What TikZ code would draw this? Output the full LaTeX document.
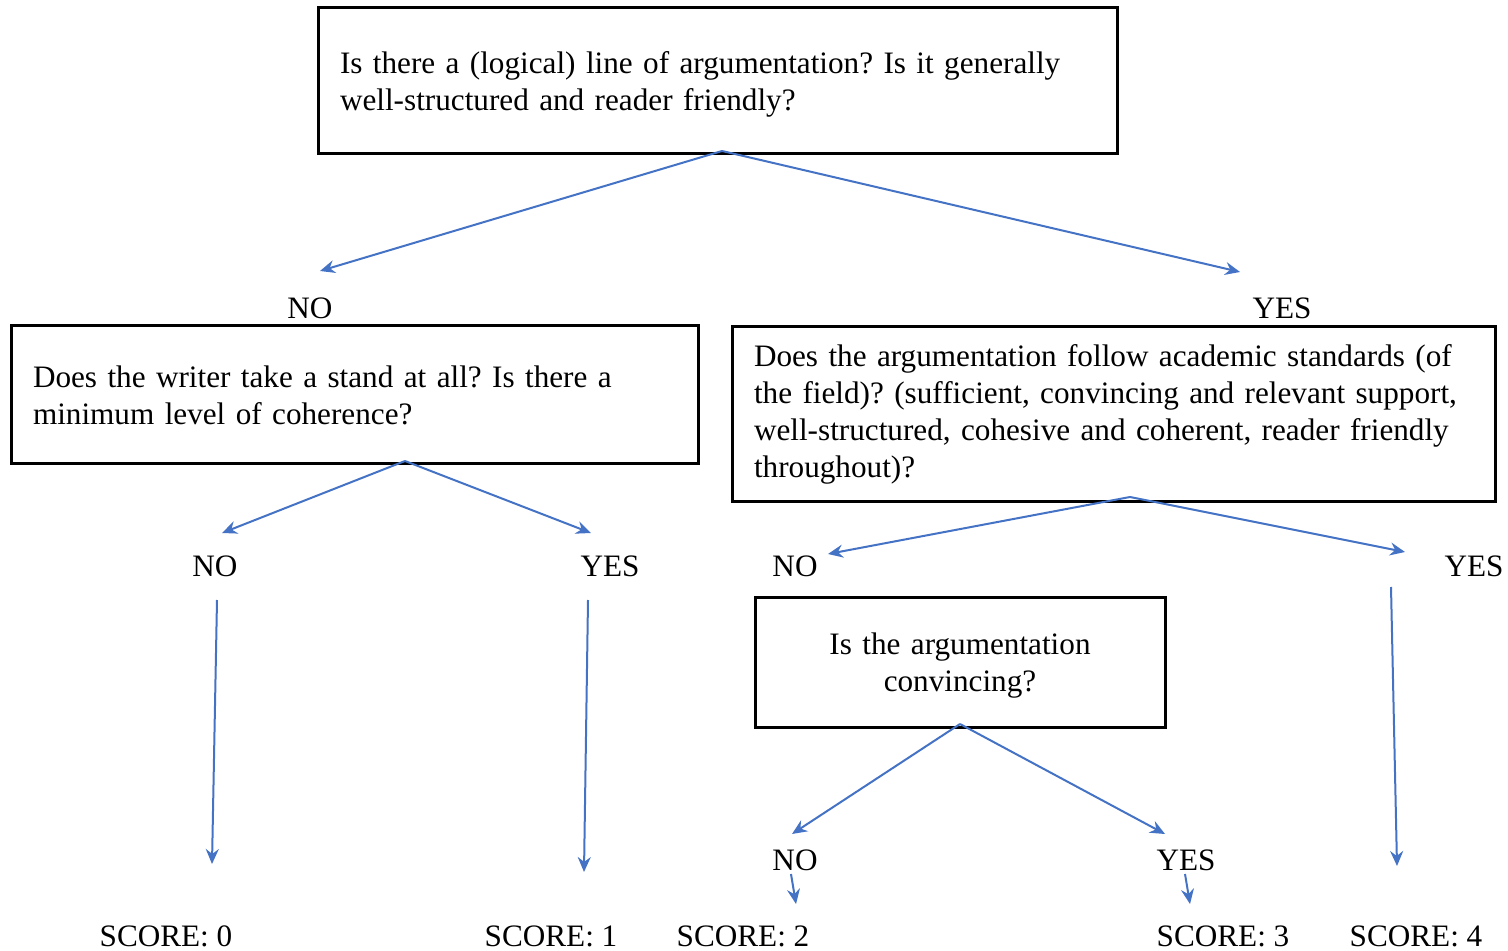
\documentclass[tikz,border=0pt]{standalone}
\usepackage{fontspec}
\setmainfont{Liberation Serif}
\usetikzlibrary{arrows.meta}
\definecolor{arrowblue}{RGB}{68,114,196}
\newcommand\lowerleft[1]{\raisebox{-2pt}[\height][\depth]{\begin{tabular}{@{}l@{}}#1\end{tabular}}}
\newcommand\lowercenter[1]{\raisebox{-2pt}[\height][\depth]{\begin{tabular}{@{}c@{}}#1\end{tabular}}}
\tikzset{
  qbox/.style={draw=black, line width=1.5pt, rectangle, inner xsep=11pt, align=left,
    font=\fontsize{15.6pt}{18.5pt}\selectfont},
  lbl/.style={font=\fontsize{15.6pt}{18.5pt}\selectfont, inner sep=0pt},
  conn/.style={draw=arrowblue, line width=1pt, -{Stealth[length=7.5pt,width=6.5pt,inset=2.5pt]}}
}
\begin{document}
\frenchspacing
\begin{tikzpicture}[x=0.5pt,y=-0.5pt]
\useasboundingbox (0,0) rectangle (1508,951);
% boxes
\node[qbox, minimum width=399.5pt, minimum height=73pt, text width=377.5pt] (q1) at (717.5,81)
  {\lowerleft{Is there a (logical) line of argumentation? Is it generally\\well-structured and reader friendly?}};
\node[qbox, minimum width=343.5pt, minimum height=69pt, text width=321.5pt] (q2) at (354.5,395)
  {Does the writer take a stand at all? Is there a\\minimum level of coherence?};
\node[qbox, minimum width=381.5pt, minimum height=87pt, text width=359.5pt] (q3) at (1113.5,414)
  {Does the argumentation follow academic standards (of\\the field)? (sufficient, convincing and relevant support,\\well-structured, cohesive and coherent, reader friendly\\throughout)?};
\node[qbox, align=center, minimum width=205pt, minimum height=65pt, text width=183pt] (q4) at (960,662)
  {\lowercenter{Is the argumentation\\convincing?}};
% labels
\node[lbl] (no1) at (310,308) {NO};
\node[lbl] (yes1) at (1282,308) {YES};
\node[lbl] (no2) at (215,566) {NO};
\node[lbl] (yes2) at (610,566) {YES};
\node[lbl] (no3) at (795,566) {NO};
\node[lbl] (yes3) at (1474,566) {YES};
\node[lbl] (no4) at (795,860) {NO};
\node[lbl] (yes4) at (1186,860) {YES};
\node[lbl] (s0) at (166,936) {SCORE: 0};
\node[lbl] (s1) at (551,936) {SCORE: 1};
\node[lbl] (s2) at (743,936) {SCORE: 2};
\node[lbl] (s3) at (1223,936) {SCORE: 3};
\node[lbl] (s4) at (1416,936) {SCORE: 4};
% connector points
\coordinate (q1b) at (722,151);
\coordinate (q2b) at (405,461);
\coordinate (q3b) at (1130,497);
\coordinate (q4b) at (960,724);
\coordinate (t1n) at (320,271);
\coordinate (t1y) at (1240,272);
\coordinate (t2n) at (222,533);
\coordinate (t2y) at (591,533);
\coordinate (t3n) at (828,554);
\coordinate (t3y) at (1405,552);
\coordinate (t4n) at (792,834);
\coordinate (t4y) at (1165,834);
\coordinate (v0a) at (217,600); \coordinate (v0b) at (212,864);
\coordinate (v1a) at (588,600); \coordinate (v1b) at (584,872);
\coordinate (v4a) at (1391,587); \coordinate (v4b) at (1397,866);
\coordinate (v2a) at (791,874); \coordinate (v2b) at (796,904);
\coordinate (v3a) at (1185,874); \coordinate (v3b) at (1190,904);
% connectors
\draw[conn] (q1b) -- (t1n);
\draw[conn] (q1b) -- (t1y);
\draw[conn] (q2b) -- (t2n);
\draw[conn] (q2b) -- (t2y);
\draw[conn] (q3b) -- (t3n);
\draw[conn] (q3b) -- (t3y);
\draw[conn] (q4b) -- (t4n);
\draw[conn] (q4b) -- (t4y);
\draw[conn] (v0a) -- (v0b);
\draw[conn] (v1a) -- (v1b);
\draw[conn] (v4a) -- (v4b);
\draw[conn] (v2a) -- (v2b);
\draw[conn] (v3a) -- (v3b);
\end{tikzpicture}
\end{document}
